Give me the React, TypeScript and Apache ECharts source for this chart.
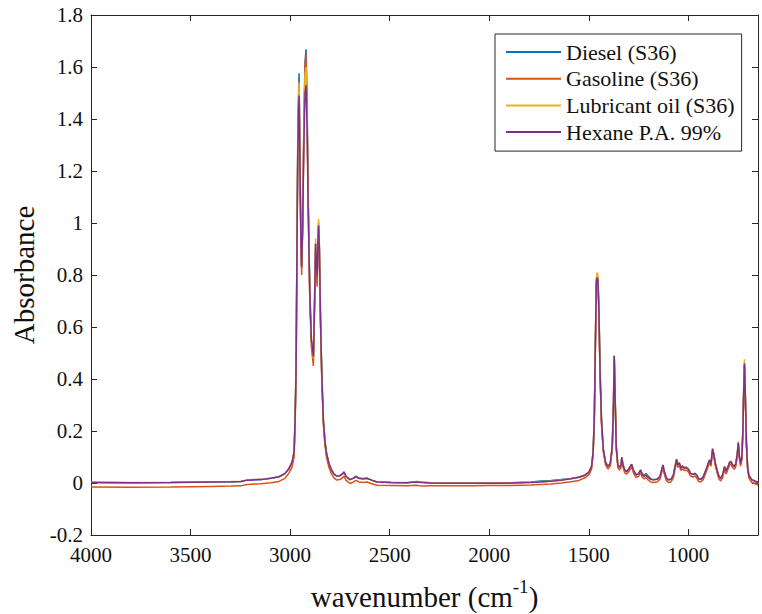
import React, { useEffect, useRef } from "react";
import * as echarts from "echarts";

// wavenumber (cm^-1), descending
const wavenumbers = [
  4000, 3799, 3598, 3397, 3297, 3247, 3216, 3196, 3146, 3096,
  3056, 3026, 3006, 2990, 2980, 2975, 2970, 2966, 2961, 2955,
  2951, 2946, 2942, 2937, 2931, 2925, 2920, 2915, 2909, 2901,
  2893, 2883, 2877, 2872, 2868, 2864, 2860, 2857, 2853, 2847,
  2841, 2833, 2825, 2817, 2805, 2792, 2780, 2767, 2750, 2734,
  2729, 2719, 2699, 2684, 2669, 2654, 2634, 2614, 2594, 2564,
  2493, 2413, 2363, 2343, 2292, 2192, 2091, 1991, 1891, 1790,
  1740, 1690, 1639, 1589, 1549, 1519, 1499, 1486, 1478, 1472,
  1467, 1462, 1458, 1454, 1449, 1443, 1436, 1427, 1416, 1404,
  1392, 1382, 1376, 1372, 1368, 1362, 1354, 1346, 1338, 1334,
  1328, 1320, 1310, 1298, 1285, 1276, 1263, 1250, 1240, 1231,
  1222, 1213, 1203, 1188, 1176, 1157, 1142, 1132, 1127, 1121,
  1111, 1100, 1087, 1075, 1065, 1059, 1053, 1045, 1037, 1030,
  1021, 1011, 1000, 989, 976, 966, 958, 948, 938, 926,
  914, 902, 894, 886, 878, 872, 864, 856, 846, 837,
  828, 818, 810, 802, 792, 786, 778, 768, 761, 753,
  749, 743, 737, 731, 726, 722, 718, 714, 708, 702,
  696, 688, 681, 671, 661, 655, 650,
];

const hexane = [
  0.002, 0.001, 0.002, 0.004, 0.005, 0.006, 0.011, 0.012, 0.013, 0.018,
  0.024, 0.036, 0.055, 0.08, 0.12, 0.24, 0.44, 0.85, 1.30, 1.49,
  1.25, 0.95, 0.83, 0.98, 1.30, 1.50, 1.53, 1.38, 1.05, 0.72,
  0.55, 0.486, 0.70, 0.92, 0.85, 0.79, 0.93, 0.99, 0.90, 0.62,
  0.42, 0.242, 0.16, 0.114, 0.075, 0.05, 0.035, 0.027, 0.028, 0.037,
  0.042, 0.025, 0.013, 0.018, 0.025, 0.018, 0.016, 0.018, 0.012, 0.004,
  0.002, 0.001, 0.004, 0.002, 0.0, -0.001, -0.001, -0.001, 0.0, 0.002,
  0.004, 0.007, 0.011, 0.016, 0.022, 0.03, 0.042, 0.063, 0.12, 0.25,
  0.52, 0.77, 0.79, 0.78, 0.66, 0.42, 0.24, 0.13, 0.08, 0.064,
  0.075, 0.14, 0.30, 0.488, 0.35, 0.14, 0.07, 0.06, 0.07, 0.099,
  0.07, 0.05, 0.044, 0.055, 0.072, 0.05, 0.032, 0.035, 0.05, 0.032,
  0.025, 0.031, 0.022, 0.014, 0.012, 0.014, 0.025, 0.055, 0.069, 0.045,
  0.02, 0.012, 0.014, 0.03, 0.07, 0.091, 0.07, 0.077, 0.058, 0.065,
  0.058, 0.06, 0.053, 0.037, 0.033, 0.037, 0.03, 0.016, 0.014, 0.022,
  0.045, 0.07, 0.088, 0.075, 0.131, 0.11, 0.075, 0.05, 0.025, 0.018,
  0.03, 0.063, 0.045, 0.06, 0.08, 0.082, 0.07, 0.063, 0.075, 0.12,
  0.155, 0.1, 0.075, 0.1, 0.2, 0.35, 0.46, 0.35, 0.15, 0.06,
  0.03, 0.02, 0.012, 0.01, 0.004, 0.006, -0.003,
];

const diesel = [
  0.002, 0.001, 0.002, 0.004, 0.005, 0.006, 0.011, 0.012, 0.013, 0.018,
  0.024, 0.036, 0.055, 0.08, 0.12, 0.24, 0.44, 0.86, 1.38, 1.576,
  1.30, 0.96, 0.83, 1.0, 1.38, 1.62, 1.668, 1.48, 1.10, 0.74,
  0.55, 0.48, 0.70, 0.92, 0.84, 0.79, 0.94, 1.0, 0.91, 0.62,
  0.42, 0.242, 0.16, 0.114, 0.075, 0.05, 0.035, 0.027, 0.028, 0.037,
  0.042, 0.025, 0.013, 0.018, 0.025, 0.018, 0.016, 0.018, 0.012, 0.004,
  0.002, 0.001, 0.006, 0.004, 0.0, 0.0, 0.0, 0.0, 0.001, 0.004,
  0.008, 0.01, 0.013, 0.017, 0.022, 0.03, 0.042, 0.063, 0.12, 0.26,
  0.53, 0.78, 0.80, 0.79, 0.67, 0.42, 0.24, 0.13, 0.08, 0.064,
  0.075, 0.14, 0.30, 0.49, 0.35, 0.14, 0.07, 0.06, 0.07, 0.099,
  0.07, 0.05, 0.044, 0.055, 0.072, 0.05, 0.032, 0.036, 0.05, 0.036,
  0.03, 0.036, 0.028, 0.016, 0.013, 0.014, 0.025, 0.055, 0.069, 0.045,
  0.02, 0.012, 0.014, 0.03, 0.07, 0.091, 0.07, 0.077, 0.058, 0.065,
  0.058, 0.06, 0.053, 0.037, 0.033, 0.037, 0.03, 0.016, 0.014, 0.022,
  0.045, 0.07, 0.088, 0.075, 0.131, 0.11, 0.075, 0.05, 0.025, 0.018,
  0.03, 0.063, 0.045, 0.06, 0.08, 0.082, 0.07, 0.063, 0.075, 0.12,
  0.155, 0.1, 0.075, 0.1, 0.2, 0.35, 0.46, 0.35, 0.15, 0.06,
  0.03, 0.02, 0.012, 0.01, 0.004, 0.006, -0.003,
];

const gasoline = [
  -0.015, -0.016, -0.015, -0.013, -0.012, -0.011, -0.006, -0.005, -0.003, 0.001,
  0.006, 0.018, 0.038, 0.062, 0.10, 0.22, 0.42, 0.83, 1.34, 1.543,
  1.26, 0.92, 0.80, 0.97, 1.34, 1.60, 1.65, 1.45, 1.06, 0.70,
  0.52, 0.45, 0.68, 0.90, 0.80, 0.755, 0.92, 0.98, 0.89, 0.60,
  0.40, 0.225, 0.145, 0.098, 0.06, 0.035, 0.02, 0.012, 0.013, 0.022,
  0.027, 0.01, -0.002, 0.003, 0.01, 0.004, 0.002, 0.004, -0.002, -0.009,
  -0.01, -0.011, -0.009, -0.012, -0.011, -0.011, -0.011, -0.01, -0.01, -0.008,
  -0.006, -0.004, 0.0, 0.005, 0.01, 0.02, 0.032, 0.053, 0.11, 0.24,
  0.51, 0.76, 0.79, 0.78, 0.65, 0.40, 0.225, 0.12, 0.07, 0.054,
  0.065, 0.13, 0.29, 0.48, 0.34, 0.13, 0.06, 0.05, 0.06, 0.09,
  0.06, 0.04, 0.034, 0.045, 0.062, 0.04, 0.022, 0.025, 0.04, 0.022,
  0.016, 0.021, 0.012, 0.004, 0.002, 0.004, 0.015, 0.045, 0.059, 0.035,
  0.01, 0.002, 0.004, 0.02, 0.06, 0.081, 0.06, 0.067, 0.048, 0.055,
  0.048, 0.05, 0.043, 0.027, 0.023, 0.027, 0.02, 0.006, 0.004, 0.012,
  0.035, 0.06, 0.078, 0.065, 0.121, 0.10, 0.065, 0.04, 0.015, 0.008,
  0.02, 0.053, 0.035, 0.05, 0.07, 0.072, 0.06, 0.053, 0.065, 0.11,
  0.145, 0.09, 0.065, 0.09, 0.19, 0.34, 0.45, 0.34, 0.14, 0.05,
  0.02, 0.01, 0.002, 0.0, -0.005, -0.003, -0.01,
];

const lubricant = [
  0.003, 0.002, 0.003, 0.005, 0.006, 0.007, 0.012, 0.013, 0.014, 0.018,
  0.024, 0.036, 0.055, 0.08, 0.12, 0.24, 0.44, 0.85, 1.34, 1.54,
  1.27, 0.95, 0.83, 0.99, 1.34, 1.57, 1.60, 1.42, 1.07, 0.72,
  0.55, 0.48, 0.71, 0.94, 0.86, 0.79, 0.96, 1.015, 0.92, 0.63,
  0.42, 0.245, 0.16, 0.115, 0.075, 0.05, 0.035, 0.027, 0.028, 0.037,
  0.042, 0.025, 0.013, 0.018, 0.025, 0.018, 0.016, 0.018, 0.012, 0.004,
  0.002, 0.002, 0.005, 0.003, 0.001, 0.0, 0.0, 0.0, 0.001, 0.003,
  0.005, 0.008, 0.012, 0.017, 0.023, 0.031, 0.043, 0.064, 0.12, 0.26,
  0.53, 0.79, 0.81, 0.80, 0.68, 0.43, 0.245, 0.13, 0.08, 0.065,
  0.075, 0.14, 0.30, 0.49, 0.35, 0.14, 0.07, 0.06, 0.07, 0.1,
  0.07, 0.05, 0.045, 0.056, 0.073, 0.05, 0.033, 0.036, 0.05, 0.033,
  0.026, 0.032, 0.022, 0.014, 0.012, 0.014, 0.026, 0.056, 0.07, 0.046,
  0.02, 0.012, 0.014, 0.03, 0.072, 0.093, 0.072, 0.079, 0.06, 0.067,
  0.06, 0.062, 0.055, 0.038, 0.034, 0.038, 0.031, 0.017, 0.015, 0.023,
  0.046, 0.072, 0.09, 0.077, 0.133, 0.112, 0.077, 0.051, 0.026, 0.019,
  0.031, 0.064, 0.046, 0.061, 0.082, 0.084, 0.072, 0.064, 0.077, 0.125,
  0.16, 0.1, 0.076, 0.1, 0.21, 0.36, 0.476, 0.36, 0.155, 0.062,
  0.031, 0.021, 0.013, 0.01, 0.004, 0.006, -0.003,
];

const seriesNames = ["Diesel (S36)", "Gasoline (S36)", "Lubricant oil (S36)", "Hexane P.A. 99%"];
const seriesColors = ["#0072BD", "#D95319", "#EDB120", "#7E2F8E"];
const xTicks = [4000, 3500, 3000, 2500, 2000, 1500, 1000];

export default function App() {
  const ref = useRef<HTMLDivElement>(null);

  useEffect(() => {
    if (!ref.current) return;
    const chart = echarts.init(ref.current, null, { renderer: "svg" });
    const font = "Liberation Serif";
    const axisColor = "#262626";
    const textColor = "#111";
    const seriesData = [diesel, gasoline, lubricant, hexane];

    const xBase = (pos: "bottom" | "top") => ({
      type: "value",
      min: 650,
      max: 4000,
      inverse: true,
      position: pos,
      axisLine: { show: true, onZero: false, lineStyle: { color: axisColor, width: 1 } },
      axisTick: { show: true, inside: true, length: 6, customValues: xTicks, lineStyle: { color: axisColor, width: 1 } },
      axisLabel: {
        show: pos === "bottom",
        customValues: xTicks,
        fontSize: 21,
        fontFamily: font,
        color: textColor,
        margin: 9,
        formatter: (v: number) => String(v),
      },
      splitLine: { show: false },
    });

    const yBase = (pos: "left" | "right") => ({
      type: "value",
      min: -0.2,
      max: 1.8,
      interval: 0.2,
      position: pos,
      axisLine: { show: true, onZero: false, lineStyle: { color: axisColor, width: 1 } },
      axisTick: { show: true, inside: true, length: 6, lineStyle: { color: axisColor, width: 1 } },
      axisLabel: {
        show: pos === "left",
        fontSize: 21,
        fontFamily: font,
        color: textColor,
        margin: 8,
        formatter: (v: number) => String(Math.round(v * 10) / 10),
      },
      splitLine: { show: false },
    });

    chart.setOption({
      animation: false,
      textStyle: { fontFamily: font },
      grid: { left: 91, right: 4, top: 15, bottom: 79, containLabel: false, outerBoundsMode: "none" },
      legend: {
        orient: "vertical",
        left: 495,
        top: 34,
        padding: [7, 7, 8, 11],
        itemGap: 4.7,
        itemWidth: 55,
        itemHeight: 2,
        icon: "rect",
        backgroundColor: "#fff",
        borderColor: axisColor,
        borderWidth: 1,
        borderRadius: 0,
        textStyle: { fontSize: 22, fontFamily: font, color: textColor, lineHeight: 22 },
        data: seriesNames,
      },
      xAxis: [
        {
          ...xBase("bottom"),
          name: "{a|wavenumber (cm}{b|-1}{a|)}",
          nameLocation: "middle",
          nameGap: 42,
          nameTextStyle: {
            rich: {
              a: { fontSize: 29, fontFamily: font, color: textColor, verticalAlign: "bottom", lineHeight: 34 },
              b: { fontSize: 19, fontFamily: font, color: textColor, verticalAlign: "top", lineHeight: 20 },
            },
          },
        },
        xBase("top"),
      ],
      yAxis: [
        {
          ...yBase("left"),
          name: "Absorbance",
          nameLocation: "middle",
          nameGap: 41,
          nameTextStyle: { fontSize: 29, fontFamily: font, color: textColor },
        },
        yBase("right"),
      ],
      series: seriesNames.map((name, k) => ({
        name,
        type: "line",
        xAxisIndex: 0,
        yAxisIndex: 0,
        data: wavenumbers.map((w, i) => [w, seriesData[k][i]]),
        symbol: "none",
        showSymbol: false,
        smooth: false,
        lineStyle: { width: 1.5, color: seriesColors[k] },
        itemStyle: { color: seriesColors[k] },
        z: 2 + k,
      })),
    });

    return () => chart.dispose();
  }, []);

  return (
    <div
      ref={ref}
      style={{ position: "absolute", left: 0, top: 0, width: 762, height: 614, background: "#fff" }}
    />
  );
}
